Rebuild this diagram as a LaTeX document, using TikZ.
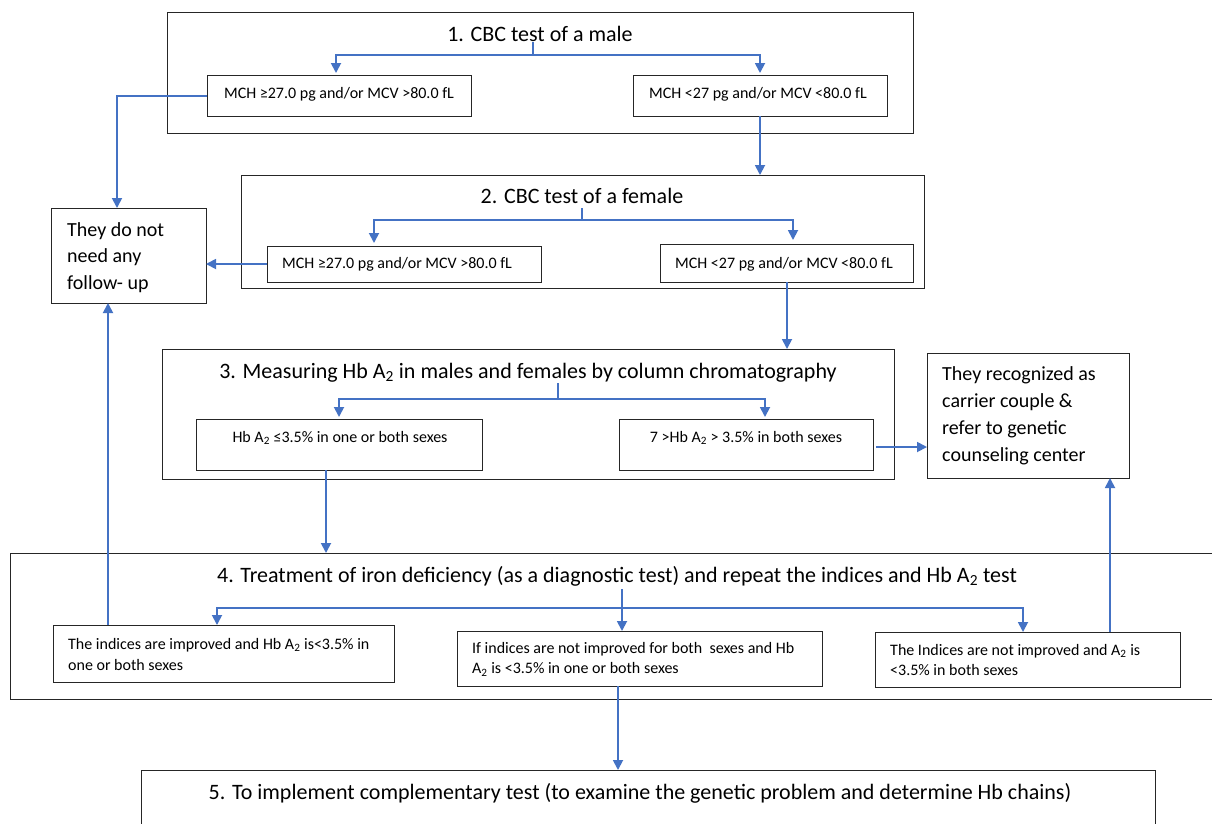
\documentclass[tikz,border=0pt]{standalone}
\usepackage{fontspec}
\setmainfont{Carlito}
\usetikzlibrary{arrows.meta,calc}
\definecolor{cblue}{HTML}{4472C4}
\begin{document}
\begin{tikzpicture}[x=1pt,y=-1pt,
  box/.style={draw=black!85, line width=1pt, inner sep=0pt, outer sep=0pt},
  ttl/.style={inner sep=0pt, anchor=base, font=\fontsize{22}{26}\selectfont},
  sml/.style={inner sep=0pt, anchor=base, font=\fontsize{16}{20}\selectfont},
  mlt/.style={inner sep=0pt, anchor=base west},
  ln/.style={draw=cblue, line width=1.6pt},
  arr/.style={draw=cblue, line width=1.8pt, -{Triangle[length=10pt,width=10pt]}},
]
\useasboundingbox[fill=white] (0,0) rectangle (1212,823);

% ---------- boxes ----------
\node[box, minimum width=746pt, minimum height=121pt] (box1) at (540,72.5) {};
\node[box, minimum width=264pt, minimum height=41pt] (b1a) at (339,95.5) {};
\node[box, minimum width=254pt, minimum height=41pt] (b1b) at (760,95.5) {};

\node[box, minimum width=683pt, minimum height=113pt] (box2) at (582.5,231.5) {};
\node[box, minimum width=274pt, minimum height=36pt] (b2a) at (404,264) {};
\node[box, minimum width=253pt, minimum height=38pt] (b2b) at (786.5,263) {};

\node[box, minimum width=155pt, minimum height=95pt] (nn) at (128.5,255.5) {};

\node[box, minimum width=732pt, minimum height=130pt] (box3) at (528,414) {};
\node[box, minimum width=286pt, minimum height=51pt] (b3a) at (339,444.5) {};
\node[box, minimum width=254pt, minimum height=51pt] (b3b) at (746,444.5) {};

\node[box, minimum width=202pt, minimum height=125pt] (car) at (1028,415.5) {};

\node[box, minimum width=1220pt, minimum height=146pt] (box4) at (620.5,626) {};
\node[box, minimum width=341pt, minimum height=57pt] (b4a) at (223.5,653.5) {};
\node[box, minimum width=365pt, minimum height=55pt] (b4b) at (639.5,658.5) {};
\node[box, minimum width=305pt, minimum height=55pt] (b4c) at (1027.5,659.5) {};

\node[box, minimum width=1014pt, minimum height=70pt] (box5) at (648,805) {};

% ---------- texts ----------
\node[ttl] (t1) at (540,41) {1. CBC test of a male};
\node[sml] (x1a) at (339,98.5) {MCH ≥27.0 pg and/or MCV >80.0 fL};
\node[sml] (x1b) at (758,98.5) {MCH <27 pg and/or MCV <80.0 fL};

\node[ttl] (t2) at (582,203) {2. CBC test of a female};
\node[sml, anchor=base west] (x2a) at (282,268) {MCH ≥27.0 pg and/or MCV >80.0 fL};
\node[sml] (x2b) at (784,268) {MCH <27 pg and/or MCV <80.0 fL};

\node[mlt, font=\fontsize{20}{26.5}\selectfont] (xnn) at (67,236)
  {\parbox[t]{135pt}{They do not\\need any\\follow- up}};

\node[ttl] (t3) at (528,378) {3. Measuring Hb A\textsubscript{2} in males and females by column chromatography};
\node[sml] (x3a) at (340,442) {Hb A\textsubscript{2} ≤3.5\% in one or both sexes};
\node[sml] (x3b) at (746,442) {7 >Hb A\textsubscript{2} > 3.5\% in both sexes};

\node[mlt, font=\fontsize{20}{27}\selectfont] (xcar) at (942,380)
  {\parbox[t]{180pt}{They recognized as\\carrier couple \&\\refer to genetic\\counseling center}};

\node[ttl] (t4) at (617,582) {4. Treatment of iron deficiency (as a diagnostic test) and repeat the indices and Hb A\textsubscript{2} test};
\node[mlt, font=\fontsize{16}{20.7}\selectfont] (x4a) at (68,649.3)
  {\parbox[t]{320pt}{The indices are improved and Hb A\textsubscript{2} is<3.5\% in\\one or both sexes}};
\node[mlt, font=\fontsize{16}{20.5}\selectfont] (x4b) at (472,653)
  {\parbox[t]{340pt}{If indices are not improved for both \ sexes and Hb\\A\textsubscript{2} is <3.5\% in one or both sexes}};
\node[mlt, font=\fontsize{16}{20.5}\selectfont] (x4c) at (890,655)
  {\parbox[t]{285pt}{The Indices are not improved and A\textsubscript{2} is\\<3.5\% in both sexes}};

\node[ttl] (t5) at (640,799) {5. To implement complementary test (to examine the genetic problem and determine Hb chains)};

% ---------- branch points ----------
\coordinate (s1) at (533,42);  \coordinate (j1) at (533,55);
\coordinate (s2) at (582,208); \coordinate (j2) at (582,220);
\coordinate (s3) at (558,383); \coordinate (j3) at (558,399);
\coordinate (s4) at (622,589); \coordinate (j4) at (622,608);

% ---------- connectors ----------
\draw[ln] (s1) -- (j1);
\draw[arr, shorten >=2pt] (j1) -| ($(b1a.north)+(-3,0)$);
\draw[arr, shorten >=2pt] (j1) -| (b1b.north);
\draw[arr] ($(b1a.west)+(0,0.5)$) -| ($(nn.north)+(-11.5,0)$);
\draw[arr] (b1b.south) -- (b1b.south |- box2.north);

\draw[ln] (s2) -- (j2);
\draw[arr, shorten >=3pt] (j2) -| ($(b2a.north)+(-30,0)$);
\draw[arr, shorten >=4pt] (j2) -| ($(b2b.north)+(6.5,0)$);
\draw[arr] (b2a.west) -- (b2a.west -| nn.east);
\draw[arr] ($(b2b.south)+(0.5,0)$) -- ($(b2b.south |- box3.north)+(0.5,0)$);

\draw[ln] (s3) -- (j3);
\draw[arr, shorten >=2pt] (j3) -| (b3a.north);
\draw[arr, shorten >=2pt] (j3) -| ($(b3b.north)+(19,0)$);
\draw[arr, shorten <=3pt] ($(b3b.east)+(0,2.5)$) -- ($(car.west |- b3b.east)+(0,2.5)$);
\draw[arr] ($(b3a.south)+(-13,0)$) -- ($(b3a.south |- box4.north)+(-13,0)$);

\draw[ln] (s4) -- (j4);
\draw[arr] (j4) -| ($(b4a.north)+(-6.5,0)$);
\draw[arr] (j4) -| ($(b4b.north)+(-17.5,0)$);
\draw[arr] (j4) -| ($(b4c.north)+(-4.5,0)$);
\draw[arr] ($(b4a.north)+(-115.5,0)$) -- ($(nn.south)+(-20.5,0)$);
\draw[arr] ($(b4c.north)+(82.5,0)$) -- ($(car.south)+(82,0)$);
\draw[arr] ($(b4b.south)+(-21.5,0)$) -- ($(b4b.south |- box5.north)+(-21.5,0)$);
\end{tikzpicture}
\end{document}
